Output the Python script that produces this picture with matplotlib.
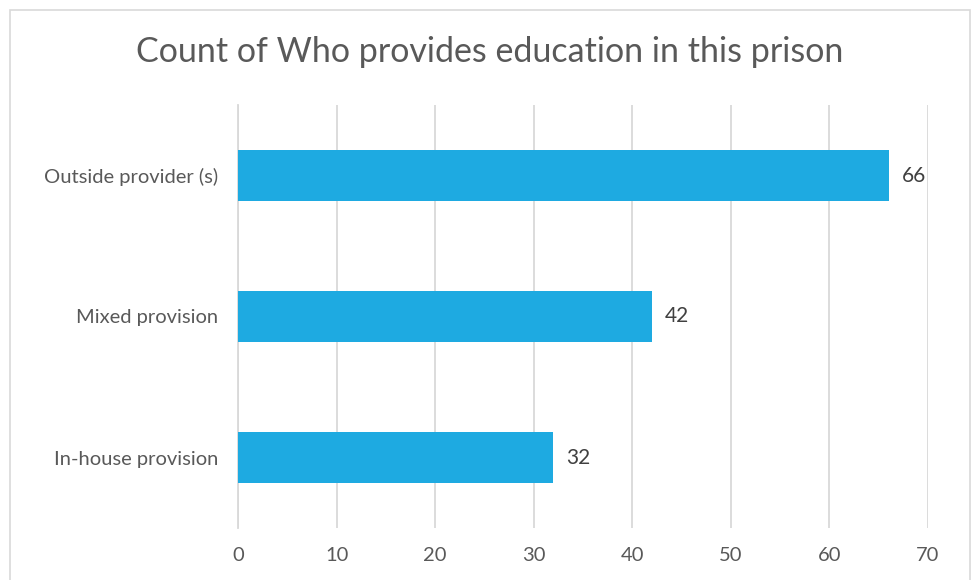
import matplotlib.pyplot as plt
from matplotlib.patches import Rectangle

# データ
categories = ['In-house provision', 'Mixed provision', 'Outside provider (s)']
counts = [32, 42, 66]
x_ticks = [0, 10, 20, 30, 40, 50, 60, 70]

plt.rcParams['font.family'] = ['Lato', 'DejaVu Sans']
text_color = '#595959'
grid_color = '#D9D9D9'

fig = plt.figure(figsize=(9.76, 5.8), dpi=100)
W, H = 976, 580
ax = fig.add_axes([238 / W, 1 - 528 / H, (928 - 238) / W, (528 - 105) / H])

ypos = list(range(len(categories)))
ax.barh(ypos, counts, height=0.355, color='#1EAAE1', zorder=3)

for y, v in zip(ypos, counts):
    ax.text(v + 1.3, y, str(v), va='center', ha='left', fontsize=15, color='#404040')

ax.set_xlim(0, 70)
ax.set_ylim(-0.5, 2.5)
ax.set_xticks(x_ticks)
ax.set_xticklabels([str(t) for t in x_ticks], fontsize=14.5, color=text_color)
ax.set_yticks(ypos)
ax.set_yticklabels(categories, fontsize=14.5, color=text_color)
ax.tick_params(axis='x', length=0, pad=14)
ax.tick_params(axis='y', length=0, pad=14)
ax.grid(axis='x', color=grid_color, linewidth=1.3, zorder=0)
for s in ['top', 'right', 'bottom']:
    ax.spines[s].set_visible(False)
ax.spines['left'].set_color(grid_color)
ax.spines['left'].set_linewidth(1.3)

fig.text(490 / W, 1 - 52 / H, 'Count of Who provides education in this prison',
         ha='center', va='center', fontsize=24.5, color=text_color)

# 枠線
fig.patches.append(Rectangle((10 / W, -0.05), 960 / W, 1 - 10 / H + 0.05,
                             transform=fig.transFigure, fill=False,
                             edgecolor='#D9D9D9', linewidth=1.2))

plt.savefig('out.png', dpi=100)
